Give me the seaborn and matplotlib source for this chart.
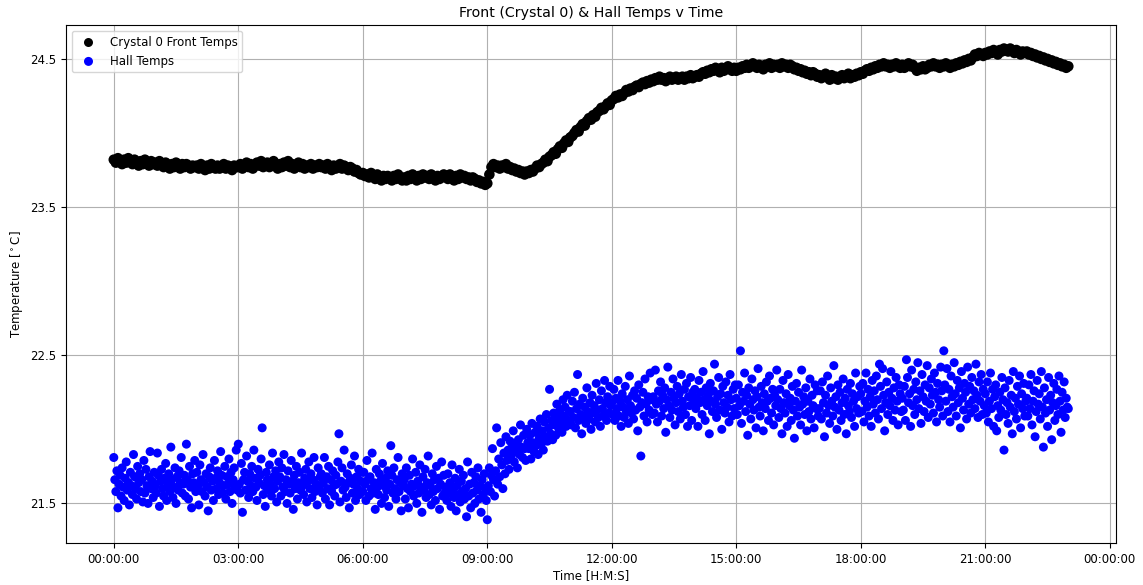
import matplotlib
matplotlib.use("Agg")
import matplotlib.pyplot as plt
import matplotlib.dates as mdates
import numpy as np
import pandas as pd
import seaborn as sns

# ---------------- data ----------------
start_time = "2023-01-01 00:00:00"
crystal_interval = "3min"
hall_interval = "90s"

# Crystal 0 front temperature, one value every 3 minutes (00:00 .. 23:00)
crystal_temps = [
    23.82, 23.80, 23.83, 23.81, 23.79, 23.82, 23.80, 23.83, 23.81, 23.79, 23.82, 23.80, 23.78, 23.81, 23.79, 23.82, 23.80, 23.78, 23.81, 23.79,
    23.80, 23.78, 23.81, 23.79, 23.77, 23.80, 23.78, 23.76, 23.79, 23.77, 23.80, 23.78, 23.76, 23.79, 23.77, 23.79, 23.78, 23.76, 23.78, 23.77,
    23.78, 23.76, 23.79, 23.77, 23.75, 23.78, 23.76, 23.79, 23.77, 23.76, 23.78, 23.76, 23.77, 23.79, 23.76, 23.78, 23.77, 23.75, 23.78, 23.77,
    23.77, 23.79, 23.76, 23.78, 23.80, 23.77, 23.79, 23.76, 23.78, 23.80, 23.78, 23.81, 23.77, 23.79, 23.80, 23.77, 23.79, 23.81, 23.78, 23.76,
    23.79, 23.77, 23.80, 23.78, 23.81, 23.77, 23.79, 23.76, 23.78, 23.80, 23.77, 23.79, 23.76, 23.78, 23.77, 23.79, 23.76, 23.78, 23.77, 23.79,
    23.77, 23.78, 23.76, 23.79, 23.77, 23.75, 23.78, 23.76, 23.77, 23.79, 23.76, 23.78, 23.77, 23.75, 23.77, 23.76, 23.74, 23.75, 23.73, 23.72,
    23.73, 23.71, 23.72, 23.70, 23.73, 23.71, 23.69, 23.72, 23.70, 23.68, 23.71, 23.69, 23.71, 23.70, 23.68, 23.71, 23.69, 23.72, 23.70, 23.68,
    23.70, 23.68, 23.71, 23.69, 23.72, 23.70, 23.68, 23.71, 23.69, 23.72, 23.70, 23.71, 23.69, 23.72, 23.70, 23.68, 23.71, 23.69, 23.70, 23.72,
    23.71, 23.69, 23.72, 23.70, 23.68, 23.71, 23.69, 23.72, 23.70, 23.71, 23.69, 23.70, 23.68, 23.70, 23.69, 23.67, 23.68, 23.66, 23.67, 23.65,
    23.66, 23.72, 23.77, 23.79, 23.77, 23.78, 23.76, 23.78, 23.77, 23.79, 23.76, 23.77, 23.75, 23.76, 23.74, 23.75, 23.73, 23.74, 23.72, 23.74,
    23.73, 23.75, 23.74, 23.76, 23.78, 23.77, 23.79, 23.80, 23.82, 23.81, 23.84, 23.85, 23.87, 23.86, 23.89, 23.91, 23.90, 23.93, 23.95, 23.94,
    23.97, 23.98, 24.00, 24.02, 24.01, 24.04, 24.06, 24.05, 24.08, 24.10, 24.09, 24.12, 24.11, 24.14, 24.15, 24.17, 24.16, 24.18, 24.20, 24.19,
    24.22, 24.23, 24.25, 24.24, 24.26, 24.25, 24.27, 24.29, 24.28, 24.30, 24.29, 24.31, 24.32, 24.31, 24.33, 24.34, 24.33, 24.35, 24.34, 24.36,
    24.35, 24.37, 24.36, 24.38, 24.36, 24.37, 24.35, 24.37, 24.38, 24.36, 24.37, 24.38, 24.36, 24.37, 24.38, 24.36, 24.38, 24.37, 24.39, 24.37,
    24.38, 24.39, 24.38, 24.40, 24.41, 24.40, 24.42, 24.41, 24.43, 24.42, 24.44, 24.43, 24.41, 24.44, 24.42, 24.43, 24.45, 24.43, 24.42, 24.44,
    24.42, 24.44, 24.43, 24.45, 24.44, 24.46, 24.44, 24.45, 24.47, 24.45, 24.44, 24.46, 24.45, 24.43, 24.46, 24.45, 24.47, 24.44, 24.46, 24.45,
    24.46, 24.44, 24.47, 24.45, 24.46, 24.44, 24.46, 24.45, 24.43, 24.44, 24.42, 24.43, 24.41, 24.42, 24.40, 24.41, 24.39, 24.41, 24.40, 24.38,
    24.39, 24.37, 24.38, 24.40, 24.38, 24.36, 24.39, 24.37, 24.38, 24.36, 24.38, 24.39, 24.37, 24.38, 24.40, 24.37, 24.39, 24.38, 24.40, 24.39,
    24.41, 24.40, 24.42, 24.43, 24.42, 24.44, 24.43, 24.45, 24.44, 24.46, 24.45, 24.47, 24.45, 24.46, 24.44, 24.46, 24.45, 24.47, 24.45, 24.44,
    24.46, 24.44, 24.45, 24.47, 24.45, 24.46, 24.44, 24.42, 24.44, 24.43, 24.45, 24.43, 24.44, 24.46, 24.45, 24.47, 24.45, 24.46, 24.44, 24.46,
    24.45, 24.47, 24.46, 24.44, 24.46, 24.45, 24.47, 24.46, 24.48, 24.47, 24.49, 24.48, 24.50, 24.49, 24.51, 24.53, 24.52, 24.54, 24.53, 24.52,
    24.54, 24.53, 24.55, 24.54, 24.56, 24.55, 24.53, 24.56, 24.55, 24.57, 24.56, 24.55, 24.57, 24.56, 24.54, 24.56, 24.55, 24.53, 24.55, 24.54,
    24.55, 24.53, 24.54, 24.52, 24.53, 24.51, 24.52, 24.50, 24.51, 24.49, 24.50, 24.48, 24.49, 24.47, 24.48, 24.46, 24.47, 24.45, 24.46, 24.44,
    24.45,
]

# Hall temperature, one value every 90 seconds (00:00 .. 23:00)
hall_temps = [
    21.81, 21.66, 21.58, 21.72, 21.47, 21.63, 21.69, 21.55, 21.74, 21.61, 21.52, 21.67, 21.78, 21.59, 21.64, 21.49, 21.71, 21.62, 21.56, 21.83,
    21.68, 21.60, 21.53, 21.75, 21.64, 21.70, 21.58, 21.66, 21.51, 21.79, 21.57, 21.73, 21.62, 21.50, 21.68, 21.85, 21.60, 21.65, 21.54, 21.71,
    21.62, 21.57, 21.84, 21.69, 21.48, 21.65, 21.73, 21.60, 21.55, 21.67, 21.77, 21.52, 21.63, 21.70, 21.58, 21.88, 21.66, 21.54, 21.61, 21.74,
    21.50, 21.68, 21.59, 21.72, 21.64, 21.81, 21.57, 21.63, 21.69, 21.55, 21.90, 21.66, 21.53, 21.75, 21.61, 21.47, 21.70, 21.64, 21.79, 21.58,
    21.71, 21.62, 21.49, 21.76, 21.66, 21.58, 21.83, 21.64, 21.55, 21.70, 21.61, 21.45, 21.68, 21.74, 21.59, 21.65, 21.52, 21.79, 21.67, 21.60,
    21.72, 21.56, 21.64, 21.85, 21.69, 21.57, 21.62, 21.75, 21.53, 21.68, 21.63, 21.80, 21.58, 21.71, 21.50, 21.66, 21.74, 21.61, 21.86, 21.59,
    21.90, 21.63, 21.57, 21.77, 21.44, 21.66, 21.71, 21.59, 21.82, 21.65, 21.54, 21.70, 21.62, 21.75, 21.58, 21.86, 21.67, 21.61, 21.52, 21.73,
    21.64, 21.69, 21.80, 22.01, 21.56, 21.62, 21.48, 21.71, 21.66, 21.59, 21.76, 21.63, 21.55, 21.84, 21.68, 21.60, 21.72, 21.51, 21.65, 21.78,
    21.68, 21.55, 21.74, 21.61, 21.83, 21.58, 21.66, 21.50, 21.72, 21.63, 21.57, 21.79, 21.65, 21.46, 21.69, 21.60, 21.75, 21.53, 21.64, 21.71,
    21.59, 21.84, 21.62, 21.56, 21.67, 21.73, 21.51, 21.65, 21.78, 21.60, 21.70, 21.54, 21.66, 21.81, 21.58, 21.63, 21.49, 21.74, 21.61, 21.68,
    21.70, 21.57, 21.64, 21.81, 21.53, 21.68, 21.60, 21.75, 21.49, 21.66, 21.58, 21.72, 21.62, 21.55, 21.69, 21.63, 21.78, 21.97, 21.51, 21.65,
    21.74, 21.59, 21.86, 21.61, 21.54, 21.70, 21.64, 21.47, 21.67, 21.76, 21.57, 21.63, 21.82, 21.52, 21.68, 21.60, 21.73, 21.56, 21.65, 21.71,
    21.58, 21.71, 21.63, 21.52, 21.79, 21.66, 21.55, 21.68, 21.60, 21.84, 21.57, 21.64, 21.46, 21.73, 21.61, 21.56, 21.70, 21.65, 21.50, 21.77,
    21.62, 21.54, 21.67, 21.59, 21.72, 21.48, 21.63, 21.89, 21.69, 21.57, 21.74, 21.60, 21.53, 21.66, 21.81, 21.58, 21.64, 21.45, 21.70, 21.62,
    21.66, 21.53, 21.74, 21.60, 21.47, 21.69, 21.58, 21.63, 21.80, 21.55, 21.62, 21.71, 21.50, 21.65, 21.57, 21.76, 21.61, 21.44, 21.68, 21.59,
    21.73, 21.54, 21.64, 21.82, 21.56, 21.62, 21.49, 21.70, 21.58, 21.66, 21.52, 21.75, 21.60, 21.67, 21.46, 21.63, 21.78, 21.55, 21.69, 21.57,
    21.61, 21.52, 21.70, 21.57, 21.64, 21.48, 21.76, 21.59, 21.54, 21.67, 21.45, 21.62, 21.56, 21.73, 21.51, 21.65, 21.58, 21.69, 21.53, 21.60,
    21.41, 21.78, 21.55, 21.63, 21.47, 21.71, 21.57, 21.64, 21.50, 21.68, 21.59, 21.74, 21.53, 21.62, 21.44, 21.66, 21.56, 21.70, 21.60, 21.52,
    21.39, 21.62, 21.74, 21.58, 21.69, 21.87, 21.66, 21.55, 21.72, 22.01, 21.63, 21.80, 21.68, 21.91, 21.76, 21.60, 21.84, 21.70, 21.95, 21.79,
    21.86, 21.73, 21.92, 21.82, 21.88, 21.99, 21.78, 21.90, 21.85, 21.74, 21.93, 21.83, 22.03, 21.88, 21.81, 21.96, 21.87, 21.79, 22.00, 21.91,
    21.87, 21.96, 21.80, 22.04, 21.91, 21.85, 21.98, 21.89, 22.02, 21.83, 21.94, 22.07, 21.90, 21.99, 21.86, 22.05, 21.95, 22.10, 21.92, 22.01,
    22.27, 21.97, 22.06, 21.93, 22.11, 22.03, 21.96, 22.17, 22.08, 22.00, 22.13, 22.04, 21.98, 22.20, 22.09, 22.15, 22.02, 22.23, 22.06, 22.12,
    22.12, 22.03, 22.19, 22.08, 22.25, 22.01, 22.14, 22.37, 22.06, 22.17, 22.10, 21.97, 22.21, 22.09, 22.15, 22.04, 22.28, 22.12, 22.07, 22.18,
    22.00, 22.23, 22.11, 22.16, 22.05, 22.31, 22.13, 22.08, 22.20, 22.02, 22.26, 22.14, 22.09, 22.33, 22.18, 22.06, 22.22, 22.11, 22.29, 22.16,
    22.18, 22.10, 22.27, 22.06, 22.21, 22.14, 22.33, 22.09, 22.19, 22.02, 22.24, 22.15, 22.08, 22.29, 22.12, 22.20, 22.04, 22.36, 22.16, 22.11,
    22.23, 22.07, 22.26, 22.13, 22.21, 21.99, 22.30, 22.15, 21.82, 22.18, 22.25, 22.09, 22.34, 22.17, 22.05, 22.22, 22.13, 22.38, 22.20, 22.10,
    22.22, 22.11, 22.40, 22.17, 22.05, 22.26, 22.19, 22.32, 22.09, 22.23, 22.14, 22.28, 21.98, 22.20, 22.42, 22.16, 22.08, 22.25, 22.13, 22.34,
    22.21, 22.03, 22.18, 22.29, 22.12, 22.24, 22.07, 22.37, 22.19, 22.15, 22.27, 22.10, 22.31, 22.02, 22.22, 22.16, 22.35, 22.06, 22.25, 22.19,
    22.27, 22.14, 22.21, 22.02, 22.33, 22.18, 22.25, 22.10, 22.39, 22.20, 22.06, 22.28, 22.16, 22.23, 21.97, 22.31, 22.19, 22.12, 22.26, 22.44,
    22.17, 22.08, 22.22, 22.35, 22.13, 22.24, 22.00, 22.29, 22.18, 22.11, 22.32, 22.15, 22.23, 22.05, 22.37, 22.20, 22.09, 22.27, 22.14, 22.30,
    22.21, 22.10, 22.30, 22.16, 22.53, 22.04, 22.25, 22.19, 22.38, 22.12, 22.23, 21.96, 22.28, 22.17, 22.07, 22.34, 22.20, 22.13, 22.26, 22.01,
    22.22, 22.41, 22.15, 22.09, 22.29, 22.18, 21.99, 22.24, 22.14, 22.32, 22.19, 22.06, 22.36, 22.21, 22.11, 22.27, 22.03, 22.23, 22.16, 22.40,
    22.20, 22.08, 22.27, 22.14, 21.97, 22.33, 22.18, 22.11, 22.24, 22.02, 22.37, 22.16, 22.21, 22.06, 22.29, 22.13, 21.94, 22.19, 22.31, 22.09,
    22.25, 22.15, 22.03, 22.40, 22.17, 22.22, 22.10, 22.28, 21.99, 22.19, 22.12, 22.34, 22.07, 22.23, 22.16, 22.01, 22.30, 22.14, 22.26, 22.09,
    22.14, 22.26, 22.07, 22.32, 22.18, 21.95, 22.23, 22.11, 22.36, 22.16, 22.04, 22.28, 22.19, 22.09, 22.43, 22.15, 22.22, 22.00, 22.30, 22.13,
    22.25, 22.06, 22.18, 22.34, 22.10, 22.21, 21.97, 22.27, 22.16, 22.12, 22.31, 22.08, 22.24, 22.19, 22.02, 22.38, 22.14, 22.22, 22.11, 22.29,
    22.24, 22.12, 22.31, 22.05, 22.19, 22.38, 22.15, 22.27, 22.09, 22.22, 22.02, 22.33, 22.17, 22.26, 22.11, 22.36, 22.20, 22.07, 22.44, 22.29,
    22.14, 22.41, 22.23, 21.99, 22.18, 22.32, 22.10, 22.25, 22.16, 22.39, 22.21, 22.06, 22.28, 22.13, 22.35, 22.19, 22.03, 22.30, 22.24, 22.12,
    22.21, 22.13, 22.29, 22.06, 22.47, 22.35, 22.18, 22.24, 22.02, 22.40, 22.16, 22.27, 22.10, 22.32, 22.20, 22.45, 22.14, 22.26, 22.04, 22.37,
    22.22, 22.12, 22.30, 22.19, 22.43, 22.08, 22.28, 22.17, 22.34, 22.23, 22.11, 22.38, 22.25, 22.05, 22.31, 22.20, 22.15, 22.42, 22.26, 22.09,
    22.53, 22.30, 22.19, 22.41, 22.12, 22.27, 22.05, 22.36, 22.22, 22.15, 22.45, 22.24, 22.09, 22.33, 22.18, 22.28, 22.01, 22.39, 22.21, 22.13,
    22.31, 22.25, 22.07, 22.42, 22.17, 22.29, 22.11, 22.35, 22.20, 22.26, 22.14, 22.44, 22.23, 22.08, 22.32, 22.19, 22.37, 22.10, 22.27, 22.16,
    22.24, 22.11, 22.32, 22.05, 22.19, 22.38, 22.14, 22.27, 22.02, 22.22, 22.30, 21.99, 22.16, 22.08, 22.25, 22.13, 22.35, 22.20, 21.86, 22.28,
    22.10, 22.18, 22.04, 22.33, 22.15, 22.23, 21.97, 22.39, 22.12, 22.21, 22.07, 22.29, 22.17, 22.36, 22.01, 22.24, 22.14, 22.31, 22.09, 22.19,
    22.21, 22.09, 22.30, 22.14, 22.37, 22.03, 22.19, 22.26, 21.95, 22.12, 22.33, 22.17, 22.24, 22.07, 22.39, 22.15, 21.88, 22.28, 22.11, 22.20,
    22.02, 22.35, 22.13, 22.23, 21.93, 22.18, 22.31, 22.06, 22.16, 22.27, 22.10, 22.36, 22.19, 21.98, 22.25, 22.13, 22.32, 22.08, 22.21, 22.15,
    22.14,
]

y_ticks = [21.5, 22.5, 23.5, 24.5]
title = "Front (Crystal 0) & Hall Temps v Time"
crystal_label = "Crystal 0 Front Temps"
hall_label = "Hall Temps"

# ---------------- frames ----------------
crystal_df = pd.DataFrame({
    "time": pd.date_range(start_time, periods=len(crystal_temps), freq=crystal_interval),
    "temp": crystal_temps,
})
hall_df = pd.DataFrame({
    "time": pd.date_range(start_time, periods=len(hall_temps), freq=hall_interval),
    "temp": hall_temps,
})

# ---------------- plot ----------------
plt.rcParams["font.family"] = ["DejaVu Sans"]
fig = plt.figure(figsize=(11.43, 5.85), dpi=100)
ax = fig.add_axes([0.0578, 0.0713, 0.9186, 0.886])

sns.scatterplot(data=crystal_df, x="time", y="temp", color="black", s=58,
                linewidth=0, edgecolor="none", label=crystal_label, ax=ax, zorder=3)
sns.scatterplot(data=hall_df, x="time", y="temp", color="blue", s=42,
                linewidth=0, edgecolor="none", label=hall_label, ax=ax, zorder=3)

ax.xaxis.set_major_locator(mdates.HourLocator(byhour=range(0, 24, 3)))
ax.xaxis.set_major_formatter(mdates.DateFormatter("%H:%M:%S"))
ax.set_yticks(y_ticks)
ax.set_yticklabels([f"{v:.1f}" for v in y_ticks])
ax.tick_params(labelsize=8.5)
ax.grid(True, color="#b0b0b0", linewidth=0.8, zorder=0)
ax.set_axisbelow(True)

ax.set_title(title, fontsize=10.2)
ax.set_xlabel("Time [H:M:S]", fontsize=8.5, labelpad=2)
ax.set_ylabel(r"Temperature [$^\circ$C]", fontsize=8.5)
leg = ax.legend(loc="upper left", fontsize=8.5)
for h in leg.legend_handles:
    h.set_sizes([42])

fig.savefig("out.png", dpi=100)
